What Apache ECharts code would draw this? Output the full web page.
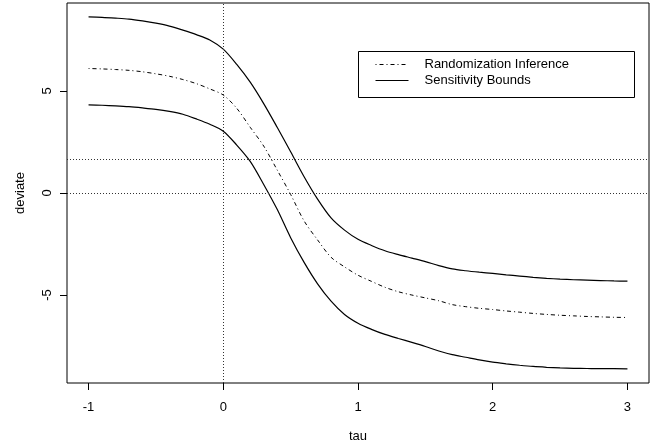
<!DOCTYPE html>
<html style="height: 100%">
<head>
    <meta charset="utf-8">
    <title>deviate vs tau</title>
    <script type="text/javascript" src="https://cdn.jsdelivr.net/npm/echarts@6/dist/echarts.min.js"></script>
</head>
<body style="height: 100%; margin: 0; background: #fff;">
<div id="container" style="height: 448px; width: 650px"></div>
<script type="text/javascript">
    // values
    var tauValues = [-1.0, -0.9, -0.8, -0.7, -0.6, -0.5, -0.4, -0.3, -0.2, -0.1,
        0.0, 0.1, 0.2, 0.3, 0.4, 0.5, 0.6, 0.7, 0.8, 0.9,
        1.0, 1.1, 1.2, 1.3, 1.4, 1.5, 1.6, 1.7, 1.8, 1.9,
        2.0, 2.1, 2.2, 2.3, 2.4, 2.5, 2.6, 2.7, 2.8, 2.9, 3.0];
    var upperValues = [8.63, 8.61, 8.57, 8.52, 8.43, 8.32, 8.18, 7.98, 7.76, 7.50,
        7.05, 6.30, 5.43, 4.38, 3.22, 2.02, 0.80, -0.30, -1.22, -1.82,
        -2.27, -2.57, -2.83, -3.02, -3.19, -3.36, -3.56, -3.72, -3.81, -3.88,
        -3.94, -4.01, -4.07, -4.13, -4.18, -4.22, -4.25, -4.27, -4.29, -4.31, -4.32];
    var riValues = [6.10, 6.08, 6.05, 6.01, 5.94, 5.84, 5.72, 5.56, 5.36, 5.10,
        4.80, 4.15, 3.22, 2.30, 1.13, -0.07, -1.37, -2.30, -3.15, -3.62,
        -4.03, -4.33, -4.62, -4.84, -5.00, -5.14, -5.28, -5.47, -5.57, -5.65,
        -5.71, -5.78, -5.84, -5.90, -5.95, -5.99, -6.02, -6.05, -6.07, -6.09, -6.10];
    var lowerValues = [4.32, 4.30, 4.27, 4.23, 4.17, 4.10, 4.00, 3.86, 3.63, 3.37,
        3.03, 2.35, 1.55, 0.42, -0.80, -2.19, -3.40, -4.45, -5.30, -5.95,
        -6.38, -6.68, -6.93, -7.13, -7.32, -7.52, -7.74, -7.92, -8.05, -8.18,
        -8.29, -8.37, -8.44, -8.50, -8.54, -8.57, -8.59, -8.60, -8.61, -8.61, -8.62];
    var xTicks = [-1, 0, 1, 2, 3];
    var yTicks = [-5, 0, 5];
    var hLines = [0, 1.645];
    var vLines = [0];

    var font = "'Liberation Sans', Helvetica, Arial, sans-serif";

    function pairs(ys) {
        var out = [];
        for (var i = 0; i < tauValues.length; i++) {
            out.push([tauValues[i], ys[i]]);
        }
        return out;
    }

    var refLines = [];
    for (var i = 0; i < hLines.length; i++) refLines.push({yAxis: hLines[i]});
    for (var j = 0; j < vLines.length; j++) refLines.push({xAxis: vLines[j]});

    var myChart = echarts.init(document.getElementById("container"));
    var option = {
        animation: false,
        backgroundColor: '#fff',
        textStyle: {fontFamily: font},
        grid: {
            left: 67, right: 1, top: 3, bottom: 60,
            show: true, borderColor: '#000', borderWidth: 1, backgroundColor: 'transparent'
        },
        xAxis: {
            type: 'value',
            min: -1.16, max: 3.16,
            name: 'tau', nameLocation: 'middle', nameGap: 47,
            nameTextStyle: {fontSize: 13, color: '#000', fontFamily: font},
            axisLine: {show: false, onZero: false},
            splitLine: {show: false},
            axisTick: {show: true, inside: false, length: 7, customValues: xTicks, lineStyle: {color: '#000'}},
            axisLabel: {customValues: xTicks, margin: 18, fontSize: 13, color: '#000', fontFamily: font}
        },
        yAxis: {
            type: 'value',
            min: -9.31, max: 9.31,
            name: 'deviate', nameLocation: 'middle', nameGap: 40,
            nameTextStyle: {fontSize: 13, color: '#000', fontFamily: font},
            axisLine: {show: false, onZero: false},
            splitLine: {show: false},
            axisTick: {show: true, inside: false, length: 7, customValues: yTicks, lineStyle: {color: '#000'}},
            axisLabel: {customValues: yTicks, rotate: 90, margin: 13, fontSize: 13, color: '#000', fontFamily: font}
        },
        legend: {
            orient: 'vertical',
            left: 375, top: 58,
            padding: 0,
            z: 20,
            itemWidth: 33, itemHeight: 14, itemGap: 3,
            itemStyle: {opacity: 0},
            lineStyle: {width: 1},
            textStyle: {fontSize: 13, color: '#000', fontFamily: font, padding: [0, 0, 0, 11]},
            data: ['Randomization Inference', 'Sensitivity Bounds']
        },
        graphic: [{
            type: 'rect',
            shape: {x: 358.5, y: 51.5, width: 276, height: 46},
            style: {fill: '#fff', stroke: '#000', lineWidth: 1},
            z: 3
        }],
        series: [
            {
                name: 'Sensitivity Bounds', type: 'line', data: pairs(upperValues),
                smooth: 0.3,
                symbol: 'none', lineStyle: {color: '#000', width: 1.2}, itemStyle: {color: '#000'},
                markLine: {
                    silent: true, symbol: 'none', label: {show: false},
                    lineStyle: {color: '#333', width: 1, type: [1, 2]},
                    data: refLines
                }
            },
            {
                name: 'Randomization Inference', type: 'line', data: pairs(riValues),
                smooth: 0.3,
                symbol: 'none', lineStyle: {color: '#000', width: 1, type: [1, 3, 4, 3]}, itemStyle: {color: '#000'}
            },
            {
                name: 'Sensitivity Bounds', type: 'line', data: pairs(lowerValues),
                smooth: 0.3,
                symbol: 'none', lineStyle: {color: '#000', width: 1.2}, itemStyle: {color: '#000'}
            }
        ]
    };
    myChart.setOption(option, true);
</script>
</body>
</html>
